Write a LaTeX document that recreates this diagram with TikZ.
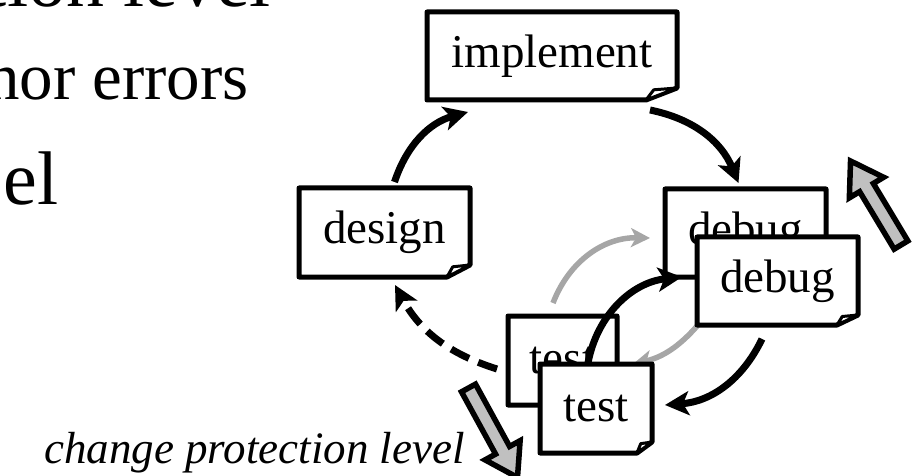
\documentclass[tikz,border=0pt]{standalone}
\usepackage{fontspec}
\setmainfont{Liberation Serif}
\usetikzlibrary{arrows.meta}

\definecolor{flowgray}{HTML}{A6A6A6}
\definecolor{blockgray}{HTML}{C0C0C0}

\tikzset{
  cardline/.style={line width=5pt, line join=round, fill=white},
  cardtext/.style={font=\fontsize{47}{56}\selectfont, inner sep=0pt},
  bullettext/.style={font=\fontsize{#1}{#1}\selectfont, inner sep=0pt, anchor=base east},
  flow/.style={line width=7pt, -{Stealth[length=24pt,width=24pt,inset=6pt]}},
  dashflow/.style={flow, dash pattern=on 20pt off 10pt},
  backflow/.style={line width=5.5pt, draw=flowgray, -{Stealth[length=19pt,width=19pt,inset=5pt]}},
  blockarrow/.style={line width=5.5pt, fill=blockgray, line join=miter},
}

% a card with a curled lower right corner:
% name, centre x, centre y, width, height, label, fold width, fold height
\newcommand\notecard[8]{%
  \node[minimum width=#4pt, minimum height=#5pt, inner sep=0pt, outer sep=0pt] (#1) at (#2,#3) {};
  \filldraw[cardline] (#1.north west) -- (#1.north east) -- ([yshift=#8pt]#1.south east)
    -- ([xshift=-#7pt]#1.south east) -- (#1.south west) -- cycle;
  \filldraw[cardline, line width=3pt] ([xshift=-#7pt]#1.south east)
    -- ([xshift={-0.75*#7pt}, yshift={0.85*#8pt}]#1.south east)
    -- ([yshift=#8pt]#1.south east) -- cycle;
  \node[cardtext] at (#1.center) {#6};
}

% a thick outlined block arrow: tail name, tail point, direction angle, length
\newcommand\blockarrow[4]{%
  \coordinate (#1) at #2;
  \draw[blockarrow, shift={(#1)}, rotate=#3]
    (0,-8) -- (#4-31,-8) -- (#4-31,-20) -- (#4,0) -- (#4-31,20) -- (#4-31,8) -- (0,8) -- cycle;
}

\begin{document}
\begin{tikzpicture}[x=1pt, y=-1pt]
  \useasboundingbox (0,0) rectangle (914,476);
  \clip (0,0) rectangle (914,476);

  % bullet text at the left
  \node[bullettext=76] (line1) at (271,7) {tion level};
  \node[bullettext=67] (line2) at (249,100) {nor errors};
  \node[bullettext=76] (line3) at (59,205) {el};

  % outer cycle
  \notecard{design}{384.5}{232.5}{171}{89}{design}{23}{12}
  \notecard{impl}{552}{56}{250}{88}{implement}{31}{12}
  \notecard{dbg1}{745.5}{233}{161}{88}{debug}{21}{10}
  \notecard{tst1}{562.5}{360.5}{109}{89}{test}{15}{11}

  \draw[flow] ([xshift=10pt,yshift=6pt]design.north) to[bend left=28]
              ([xshift=41pt,yshift=-12pt]impl.south west);
  \draw[flow] ([xshift=-27pt,yshift=-10pt]impl.south east) to[bend left=28]
              ([xshift=-7pt,yshift=6pt]dbg1.north);
  \draw[dashflow] ([xshift=-11pt,yshift=-8.5pt]tst1.west) to[bend left=22]
                  ([xshift=10.5pt,yshift=-8pt]design.south);

  % first pass
  \draw[backflow] ([xshift=-9.5pt,yshift=13pt]tst1.north) to[bend left=35]
                  ([xshift=-15pt,yshift=-5pt]dbg1.west);
  \draw[backflow] ([xshift=33pt,yshift=-48pt]dbg1.south west) to[bend left=18]
                  ([xshift=16pt,yshift=-3.5pt]tst1.east);

  % second pass
  \notecard{dbg2}{777.5}{281}{161}{88}{debug}{21}{10}
  \draw[flow] ([xshift=24.5pt,yshift=-8.5pt]tst1.center) to[bend left=38]
              ([xshift=-15pt,yshift=4pt]dbg2.west);
  \notecard{tst2}{596}{408.5}{112}{89}{test}{15}{11}
  \draw[flow] ([xshift=-15.5pt,yshift=-14pt]dbg2.south) to[bend left=30]
              ([xshift=13pt,yshift=3.5pt]tst2.east);

  % protection level changes
  \blockarrow{upTail}{(901,245)}{121}{98}
  \blockarrow{downTail}{(468.5,388)}{-61.3}{102}

  \node[font=\itshape\fontsize{45}{50}\selectfont, inner sep=0pt, anchor=base east]
    (caption) at (465,463) {change protection level};
\end{tikzpicture}
\end{document}
